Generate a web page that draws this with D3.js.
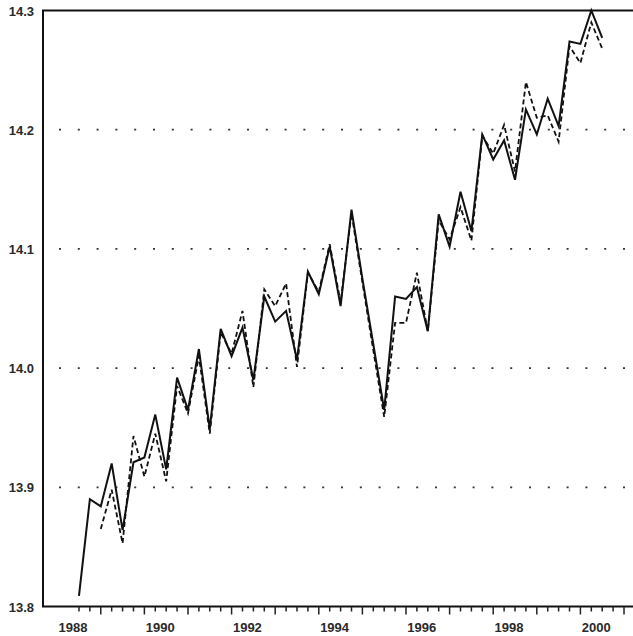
<!DOCTYPE html>
<html>
<head>
<meta charset="utf-8">
<script src="https://cdn.jsdelivr.net/npm/d3@7"></script>
<style>
  body { margin: 0; background: #fff; }
  text { font-family: "Liberation Sans", Arial, sans-serif; font-size: 13px; font-weight: bold; fill: #2a2a2a; }
</style>
</head>
<body>
<svg width="633" height="636"></svg>
<script>
// quarterly observations, 1988Q1 .. 2000Q1
var startYear = 1988;
var actual = [13.809, 13.890, 13.884, 13.920, 13.864, 13.921, 13.925, 13.961,
  13.915, 13.992, 13.965, 14.016, 13.949, 14.033, 14.010, 14.034,
  13.990, 14.060, 14.039, 14.048, 14.007, 14.081, 14.062, 14.102,
  14.052, 14.133, 14.075, 14.020, 13.965, 14.060, 14.058, 14.068,
  14.031, 14.129, 14.102, 14.148, 14.115, 14.196, 14.175, 14.191,
  14.158, 14.217, 14.196, 14.226, 14.203, 14.274, 14.272, 14.300, 14.277];
var fitted = [null, null, 13.865, 13.898, 13.853, 13.943, 13.909, 13.945,
  13.905, 13.985, 13.962, 14.010, 13.945, 14.030, 14.012, 14.048,
  13.984, 14.066, 14.052, 14.071, 14.001, 14.080, 14.064, 14.104,
  14.055, 14.130, 14.072, 14.015, 13.959, 14.038, 14.038, 14.080,
  14.031, 14.124, 14.108, 14.135, 14.107, 14.195, 14.180, 14.204,
  14.165, 14.240, 14.210, 14.212, 14.190, 14.270, 14.256, 14.290, 14.268];
var yTicks = [13.8, 13.9, 14.0, 14.1, 14.2, 14.3];
var xLabels = [1988, 1990, 1992, 1994, 1996, 1998, 2000];

var svg = d3.select("svg"),
    plot = {x0: 43, x1: 633, y0: 10.5, y1: 606.5};

var x = d3.scaleLinear().domain([1987.175, 2000.706]).range([plot.x0, plot.x1]);
var y = d3.scaleLinear().domain([13.8, 14.3]).range([plot.y1, plot.y0]);

function qt(i) { return startYear + i / 4; }

// dotted grid
svg.append("g").selectAll("line")
    .data(yTicks.slice(1, -1))
    .enter().append("line")
    .attr("x1", plot.x0 + 16).attr("x2", plot.x1)
    .attr("y1", function (d) { return y(d); })
    .attr("y2", function (d) { return y(d); })
    .attr("stroke", "#333")
    .attr("stroke-width", 1.8)
    .attr("stroke-dasharray", "2 16.8");

// frame
svg.append("path")
    .attr("d", "M" + plot.x1 + "," + plot.y0 + "H" + plot.x0 + "V" + plot.y1 + "H" + plot.x1)
    .attr("fill", "none")
    .attr("stroke", "#111")
    .attr("stroke-width", 2);

// y labels
svg.append("g").selectAll("text")
    .data(yTicks)
    .enter().append("text")
    .attr("x", 34)
    .attr("y", function (d) { return y(d) + 5; })
    .attr("text-anchor", "end")
    .text(function (d) { return d3.format(".1f")(d); });

// quarterly ticks below the axis
var quarters = d3.range(0, 52);
svg.append("g").selectAll("line")
    .data(quarters)
    .enter().append("line")
    .attr("x1", function (i) { return x(qt(i)); })
    .attr("x2", function (i) { return x(qt(i)); })
    .attr("y1", plot.y1)
    .attr("y2", function (i) { return plot.y1 + (i % 4 === 2 ? 8 : 5); })
    .attr("stroke", "#222")
    .attr("stroke-width", 1.5);

svg.append("g").selectAll("text")
    .data(xLabels)
    .enter().append("text")
    .attr("x", function (d) { return x(d) - 6; })
    .attr("y", 632)
    .attr("text-anchor", "middle")
    .text(function (d) { return d; });

var line = d3.line()
    .defined(function (d) { return d != null; })
    .x(function (d, i) { return x(qt(i)); })
    .y(function (d) { return y(d); });

svg.append("path")
    .datum(fitted)
    .attr("d", line)
    .attr("fill", "none")
    .attr("stroke", "#111")
    .attr("stroke-width", 1.8)
    .attr("stroke-dasharray", "5 3");

svg.append("path")
    .datum(actual)
    .attr("d", line)
    .attr("fill", "none")
    .attr("stroke", "#111")
    .attr("stroke-width", 2);
</script>
</body>
</html>
